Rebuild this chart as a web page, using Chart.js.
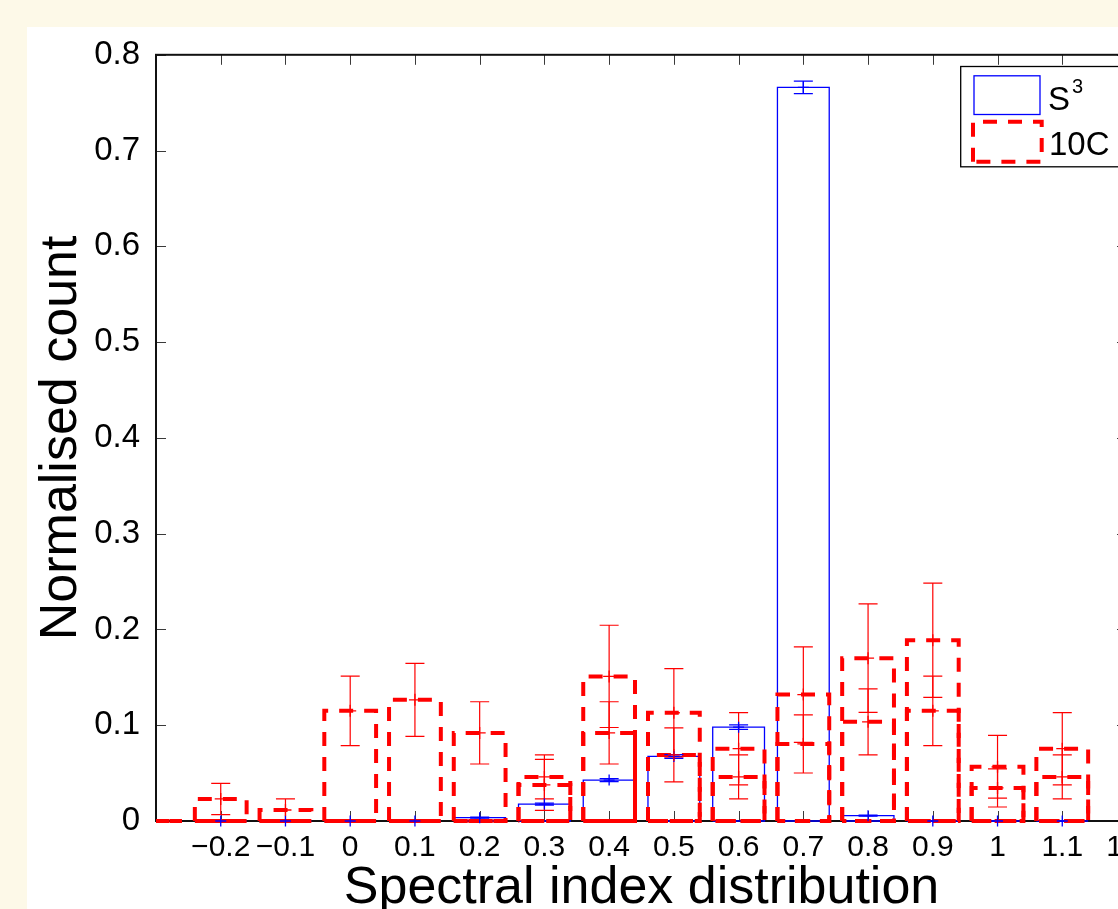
<!DOCTYPE html>
<html><head><meta charset="utf-8">
<script src="https://cdn.jsdelivr.net/npm/chart.js@4/dist/chart.umd.min.js"></script>
<style>
html,body{margin:0;padding:0;width:1118px;height:909px;overflow:hidden;background:#FDF9E8;}
#wrap{position:absolute;left:27px;top:27px;width:1150px;height:920px;background:#fff;}
canvas{display:block;}
</style></head><body>
<div id="wrap"><canvas id="c" width="1150" height="920" style="width:1150px;height:920px"></canvas></div>
<script>
// ---- data ----
const binCenters = [-0.3, -0.2, -0.1, 0, 0.1, 0.2, 0.3, 0.4, 0.5, 0.6, 0.7, 0.8, 0.9, 1.0, 1.1];
const s3Values   = [null, 0, 0, 0, 0, 0.0035, 0.0177, 0.0427, 0.0674, 0.098, 0.766, 0.0056, 0, 0, 0];
const s3Errors   = [null, 0, 0, 0, 0, 0.0004, 0.001, 0.0015, 0.0019, 0.0023, 0.0065, 0.0006, 0, 0, 0];
const tenCAllValues = [0, 0.023, 0.0115, 0.115, 0.1265, 0.092, 0.046, 0.092, 0.069, 0.046, 0.0805, 0.1035, 0.115, 0.0345, 0.046];
const tenCAllErrors = [0, 0.0163, 0.0115, 0.0363, 0.0381, 0.0325, 0.023, 0.0325, 0.0282, 0.023, 0.0304, 0.0345, 0.0363, 0.0199, 0.023];
const tenCSubValues = [0, 0, 0, 0, 0, 0, 0.0377, 0.151, 0.113, 0.0755, 0.132, 0.170, 0.1887, 0.0566, 0.0755];
const tenCSubErrors = [0, 0, 0, 0, 0, 0, 0.0267, 0.0534, 0.0462, 0.0377, 0.0499, 0.0566, 0.0597, 0.0327, 0.0377];
const seriesNames = ['S³', '10C'];
const xTicks = [-0.2, -0.1, 0, 0.1, 0.2, 0.3, 0.4, 0.5, 0.6, 0.7, 0.8, 0.9, 1.0, 1.1, 1.2];
const xTickLabels = ['\u22120.2', '\u22120.1', '0', '0.1', '0.2', '0.3', '0.4', '0.5', '0.6', '0.7', '0.8', '0.9', '1', '1.1', '1.2'];
const yTicks = [0, 0.1, 0.2, 0.3, 0.4, 0.5, 0.6, 0.7, 0.8];
const yTickLabels = ['0', '0.1', '0.2', '0.3', '0.4', '0.5', '0.6', '0.7', '0.8'];
const xTitle = 'Spectral index distribution';
const yTitle = 'Normalised count';

// ---- styling constants ----
const FONT = "'Liberation Sans', Arial, Helvetica, sans-serif";
const HALF_BAR = 0.04;   // bar width 0.8 of bin spacing
const CAP = 0.0147;      // error bar cap half width (x units)
const BLUE = '#0000FF', RED = '#FF0000';
const DASH = [14, 11];

function barOutline(values) {
  const pts = [];
  binCenters.forEach((c, i) => {
    const v = values[i];
    if (v === null || v === undefined) return;
    const l = c - HALF_BAR, r = c + HALF_BAR;
    pts.push({x: l, y: 0}, {x: l, y: v}, {x: r, y: v}, {x: r, y: 0}, {x: l, y: 0}, {x: c, y: null});
  });
  return pts;
}
function errorBars(values, errors) {
  const pts = [];
  binCenters.forEach((c, i) => {
    const v = values[i], e = errors[i];
    if (v === null || v === undefined || !e) return;
    pts.push({x: c, y: v - e}, {x: c, y: v + e}, {x: c, y: null});
    pts.push({x: c - CAP, y: v + e}, {x: c + CAP, y: v + e}, {x: c, y: null});
    pts.push({x: c - CAP, y: v - e}, {x: c + CAP, y: v - e}, {x: c, y: null});
  });
  return pts;
}
function markers(values, keepZero) {
  const pts = [];
  binCenters.forEach((c, i) => {
    const v = values[i];
    if (v === null || v === undefined) return;
    if (!keepZero && v === 0) return;
    pts.push({x: c, y: v});
  });
  return pts;
}

const lineDs = (data, color, width, dash, order, clip) => ({
  data, showLine: true, borderColor: color, borderWidth: width, borderDash: dash,
  pointRadius: 0, pointHoverRadius: 0, fill: false, tension: 0, order, clip
});
const markDs = (data, color, r, order) => ({
  data, showLine: false, pointStyle: 'cross', pointRadius: r, pointHoverRadius: r,
  pointBorderColor: color, pointBackgroundColor: color, pointBorderWidth: 1.3, order, clip: false
});

const barClip = {left: 0, right: 0, top: 4, bottom: 4};
const datasets = [
  Object.assign(lineDs(barOutline(s3Values), BLUE, 1.3, [], 10, barClip), {label: seriesNames[0]}),
  Object.assign(lineDs(barOutline(tenCAllValues), RED, 4, DASH, 9, barClip), {label: seriesNames[1]}),
  lineDs(barOutline(tenCSubValues), RED, 4, DASH, 8, barClip),
  lineDs(errorBars(s3Values, s3Errors), BLUE, 1.3, [], 7, false),
  lineDs(errorBars(tenCAllValues, tenCAllErrors), RED, 1.2, [], 6, false),
  lineDs(errorBars(tenCSubValues, tenCSubErrors), RED, 1.2, [], 5, false),
  markDs(markers(s3Values, true), BLUE, 5.5, 4),
  markDs(markers(tenCAllValues, false), RED, 6, 3),
  markDs(markers(tenCSubValues, false), RED, 6, 2)
];

const axesBox = {
  id: 'axesBox',
  beforeDatasetsDraw(chart) {
    const {ctx, chartArea: a, scales: {x, y}} = chart;
    ctx.save();
    ctx.strokeStyle = '#3a3a3a'; ctx.lineWidth = 1;
    ctx.beginPath();
    xTicks.forEach(v => {
      const px = Math.round(x.getPixelForValue(v)) + 0.5;
      ctx.moveTo(px, a.bottom); ctx.lineTo(px, a.bottom - 10);
      ctx.moveTo(px, a.top); ctx.lineTo(px, a.top + 10);
    });
    yTicks.forEach(v => {
      const py = Math.round(y.getPixelForValue(v)) + 0.5;
      ctx.moveTo(a.left, py); ctx.lineTo(a.left + 10, py);
      ctx.moveTo(a.right, py); ctx.lineTo(a.right - 10, py);
    });
    ctx.stroke();
    ctx.strokeStyle = '#111'; ctx.lineWidth = 2;
    ctx.strokeRect(a.left, a.top, a.right - a.left, a.bottom - a.top);
    ctx.restore();
  }
};

const boxLegend = {
  id: 'boxLegend',
  afterDraw(chart) {
    const {ctx, chartArea: a} = chart;
    const w = 161.3, h = 100.3;
    const right = a.right - 5, top = a.top + 11.7, left = right - w;
    ctx.save();
    ctx.fillStyle = '#fff'; ctx.fillRect(left, top, w, h);
    ctx.strokeStyle = '#000'; ctx.lineWidth = 1.3; ctx.setLineDash([]);
    ctx.strokeRect(left, top, w, h);
    const d0 = chart.data.datasets[0], d1 = chart.data.datasets[1];
    ctx.strokeStyle = d0.borderColor; ctx.lineWidth = d0.borderWidth;
    ctx.strokeRect(left + 13.3, top + 9.3, 66, 38.7);
    ctx.strokeStyle = d1.borderColor; ctx.lineWidth = d1.borderWidth; ctx.setLineDash(d1.borderDash);
    ctx.beginPath();
    const l2 = left + 12.3, t2 = top + 55.3, r2 = left + 81, b2 = top + 95.3;
    ctx.moveTo(l2, b2); ctx.lineTo(l2, t2); ctx.lineTo(r2, t2); ctx.lineTo(r2, b2); ctx.closePath();
    ctx.stroke();
    ctx.setLineDash([]);
    ctx.fillStyle = '#000'; ctx.textBaseline = 'alphabetic'; ctx.textAlign = 'left';
    const n0 = seriesNames[0];
    const base = n0.replace('³', ''), sup = n0.includes('³') ? '3' : '';
    ctx.font = '33px ' + FONT;
    ctx.fillText(base, left + 87.3, top + 43.9);
    const bw = ctx.measureText(base).width;
    ctx.font = '20px ' + FONT;
    ctx.fillText(sup, left + 87.3 + bw + 2, top + 26.5);
    ctx.font = '33px ' + FONT;
    ctx.fillText(seriesNames[1], left + 88.3, top + 88);
    ctx.restore();
  }
};

new Chart(document.getElementById('c').getContext('2d'), {
  type: 'scatter',
  data: {datasets},
  options: {
    responsive: false, animation: false, devicePixelRatio: 1, events: [],
    layout: {padding: {left: 0, top: 26, right: 50, bottom: 0}},
    plugins: {legend: {display: false}, tooltip: {enabled: false}},
    scales: {
      x: {
        type: 'linear', min: -0.3, max: 1.2,
        afterBuildTicks: s => { s.ticks = xTicks.map(v => ({value: v})); },
        afterFit: s => { s.height = 126; },
        grid: {display: false}, border: {display: false},
        ticks: {padding: 1, color: '#000', font: {size: 30, family: FONT}, autoSkip: false, maxRotation: 0, minRotation: 0,
                callback: (v, i) => xTickLabels[i]},
        title: {display: true, text: xTitle, color: '#000', font: {size: 52, family: FONT}, padding: {top: 0, bottom: 26.8}}
      },
      y: {
        type: 'linear', min: 0, max: 0.8,
        afterBuildTicks: s => { s.ticks = yTicks.map(v => ({value: v})); },
        afterFit: s => { s.width = 129; },
        grid: {display: false}, border: {display: false},
        ticks: {padding: 8, color: '#000', font: {size: 33, family: FONT}, autoSkip: false,
                callback: (v, i) => yTickLabels[i]},
        title: {display: true, text: yTitle, color: '#000', font: {size: 52, family: FONT}, padding: {top: 3.8, bottom: 0}}
      }
    }
  },
  plugins: [axesBox, boxLegend]
});
</script></body></html>
